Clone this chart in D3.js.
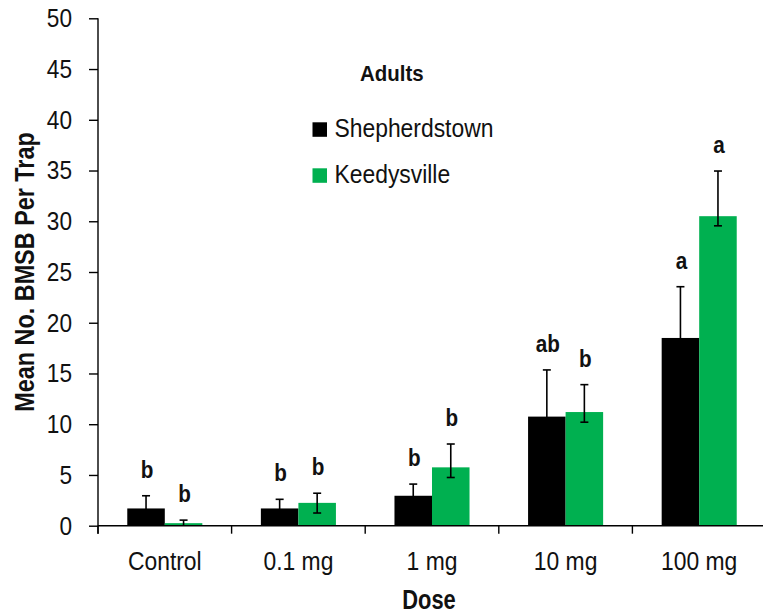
<!DOCTYPE html>
<html>
<head>
<meta charset="utf-8">
<script src="https://cdn.jsdelivr.net/npm/d3@7"></script>
<style>
  html, body { margin: 0; padding: 0; background: #fff; }
  svg { display: block; }
  text { font-family: "Liberation Sans", Arial, sans-serif; fill: #111; }
</style>
</head>
<body>
<svg id="chart" width="763" height="614"></svg>
<script>
// ---- data ----
const categories = ["Control", "0.1 mg", "1 mg", "10 mg", "100 mg"];
const seriesNames = ["Shepherdstown", "Keedysville"];
const shepherdstown = [1.7, 1.7, 2.95, 10.75, 18.5];
const shepherdstownErrUp = [1.25, 0.9, 1.15, 4.6, 5.05];
const shepherdstownErrDown = [1.25, 0.9, 1.15, 4.6, 5.05];
const keedysville = [0.25, 2.25, 5.75, 11.2, 30.5];
const keedysvilleErrUp = [0.3, 0.95, 2.3, 2.7, 4.45];
const keedysvilleErrDown = [0.25, 1.0, 1.0, 1.0, 0.95];
const shepherdstownLetters = ["b", "b", "b", "ab", "a"];
const keedysvilleLetters = ["b", "b", "b", "b", "a"];
const yTicks = [0, 5, 10, 15, 20, 25, 30, 35, 40, 45, 50];
const colors = ["#000000", "#00B050"];

// ---- build ----
const rows = categories.map((c, i) => ({
  cat: c,
  vals: [
    { s: 0, v: shepherdstown[i], up: shepherdstownErrUp[i], dn: shepherdstownErrDown[i], lab: shepherdstownLetters[i] },
    { s: 1, v: keedysville[i], up: keedysvilleErrUp[i], dn: keedysvilleErrDown[i], lab: keedysvilleLetters[i] }
  ]
}));

const svg = d3.select("#chart");
const pLeft = 98, pRight = 766, pTop = 18.3, pBottom = 525.7;

// horizontally condense text (narrow typeface look)
function narrow(sel, sx) {
  sel.each(function () {
    const t = d3.select(this);
    const xv = +(t.attr("x") || 0);
    t.attr("x", xv / sx);
    const tr = t.attr("transform") || "";
    t.attr("transform", (tr + ` scale(${sx},1)`).trim());
  });
}

const x = d3.scaleBand().domain(categories).range([pLeft, pRight]).paddingInner(0).paddingOuter(0);
const x1 = d3.scaleBand().domain([0, 1]).range([0, x.bandwidth()]).paddingInner(0).paddingOuter(0.78);
const y = d3.scaleLinear().domain([0, 50]).range([pBottom, pTop]);

// bars
const g = svg.append("g");
const groups = g.selectAll("g.cat").data(rows).join("g")
  .attr("transform", d => `translate(${x(d.cat)},0)`);

groups.selectAll("rect").data(d => d.vals).join("rect")
  .attr("x", d => x1(d.s))
  .attr("width", x1.bandwidth())
  .attr("y", d => y(d.v))
  .attr("height", d => y(0) - y(d.v))
  .attr("fill", d => colors[d.s]);

// error bars
const eb = groups.selectAll("g.err").data(d => d.vals).join("g").attr("class", "err")
  .attr("transform", d => `translate(${x1(d.s) + x1.bandwidth() / 2},0)`);
eb.append("line")
  .attr("x1", 0).attr("x2", 0)
  .attr("y1", d => y(Math.max(0, d.v - d.dn))).attr("y2", d => y(d.v + d.up))
  .attr("stroke", "#000").attr("stroke-width", 1.6);
eb.append("line")
  .attr("x1", -4).attr("x2", 4)
  .attr("y1", d => y(d.v + d.up)).attr("y2", d => y(d.v + d.up))
  .attr("stroke", "#000").attr("stroke-width", 1.6);
eb.filter(d => d.v - d.dn > 0).append("line")
  .attr("x1", -4).attr("x2", 4)
  .attr("y1", d => y(d.v - d.dn)).attr("y2", d => y(d.v - d.dn))
  .attr("stroke", "#000").attr("stroke-width", 1.6);

// letters
const letters = eb.append("g").attr("transform", d => `translate(1,${y(d.v + d.up) - 18})`)
  .append("text")
  .attr("x", 0).attr("y", 0)
  .attr("text-anchor", "middle")
  .attr("font-weight", "bold")
  .attr("font-size", 23.5)
  .text(d => d.lab);
narrow(letters, 0.88);

// y axis
const yAxis = d3.axisLeft(y).tickValues(yTicks).tickSize(9).tickPadding(17).tickFormat(d3.format("d"));
const ya = svg.append("g").attr("transform", `translate(${pLeft},0)`).call(yAxis);
ya.select(".domain").remove();
ya.attr("font-family", null).attr("font-size", null);
ya.selectAll(".tick line").attr("stroke", "#000").attr("stroke-width", 1.4);
ya.selectAll(".tick text").attr("font-size", 26).attr("fill", "#111");
narrow(ya.selectAll(".tick text"), 0.87);
svg.append("line").attr("x1", pLeft).attr("x2", pLeft).attr("y1", pTop).attr("y2", pBottom + 8)
  .attr("stroke", "#000").attr("stroke-width", 1.4);

// x axis
svg.append("line").attr("x1", pLeft).attr("x2", 763).attr("y1", pBottom).attr("y2", pBottom)
  .attr("stroke", "#000").attr("stroke-width", 1.4);
svg.append("g").selectAll("line").data(categories).join("line")
  .attr("x1", d => x(d)).attr("x2", d => x(d))
  .attr("y1", pBottom).attr("y2", pBottom + 8)
  .attr("stroke", "#000").attr("stroke-width", 1.4);
const xAxis = d3.axisBottom(x).tickSize(0).tickPadding(26);
const xa = svg.append("g").attr("transform", `translate(0,${pBottom})`).call(xAxis);
xa.select(".domain").remove();
xa.attr("font-family", null).attr("font-size", null);
xa.selectAll(".tick text").attr("font-size", 26).attr("fill", "#111");
narrow(xa.selectAll(".tick text"), 0.88);

// axis titles
const doseT = svg.append("text").attr("transform", `translate(${(pLeft + pRight) / 2 - 3},609)`)
  .attr("text-anchor", "middle").attr("font-weight", "bold").attr("font-size", 27).text("Dose");
narrow(doseT, 0.81);
const yT = svg.append("text").attr("transform", "translate(34,272) rotate(-90)")
  .attr("text-anchor", "middle").attr("font-weight", "bold").attr("font-size", 28).text("Mean No. BMSB Per Trap");
narrow(yT, 0.836);

// legend
const adT = svg.append("text").attr("transform", "translate(360,80.7)").attr("font-weight", "bold").attr("font-size", 22).text("Adults");
narrow(adT, 0.93);
const lg = svg.append("g").selectAll("g").data(seriesNames).join("g")
  .attr("transform", (d, i) => `translate(312.5,${122.3 + i * 46})`);
lg.append("rect").attr("width", 14.5).attr("height", 14.5).attr("fill", (d, i) => colors[i]);
const lgT = lg.append("g").attr("transform", "translate(22,15)").append("text").attr("font-size", 26).text(d => d);
narrow(lgT, 0.88);
</script>
</body>
</html>
